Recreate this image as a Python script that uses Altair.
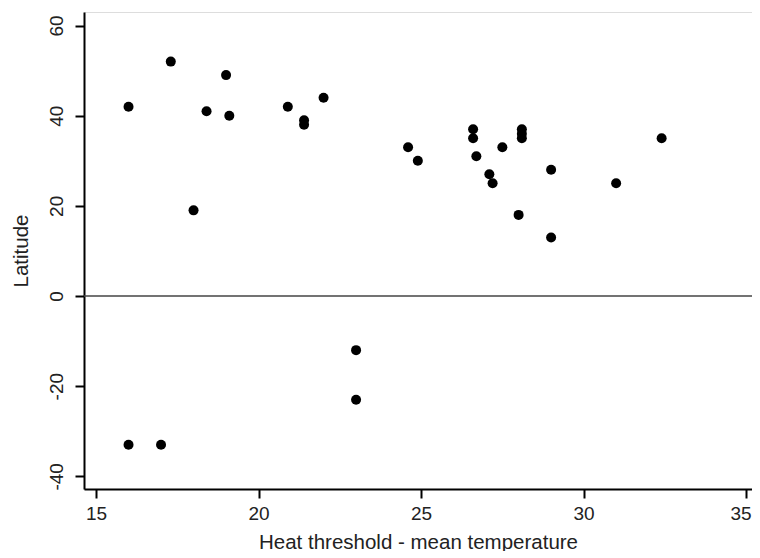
import altair as alt
import pandas as pd

heat_diff = [16, 17.3, 19, 18.4, 19.1, 18, 20.9, 21.4, 21.4, 22,
             24.6, 24.9, 26.6, 26.6, 26.7, 27.5, 27.1, 27.2, 28.1, 28.1,
             28.1, 29, 28, 29, 31, 32.4, 16, 17, 23, 23]
latitude = [42, 52, 49, 41, 40, 19, 42, 39, 38, 44,
            33, 30, 37, 35, 31, 33, 27, 25, 37, 36,
            35, 28, 18, 13, 25, 35, -33, -33, -12, -23]

df = pd.DataFrame({"x": heat_diff, "y": latitude})
zero = pd.DataFrame({"y": [0]})

X_DOM = [14.63, 35.18]
Y_DOM = [-42.8, 63]

font = "Liberation Sans"

xscale = alt.Scale(domain=X_DOM, nice=False, zero=False)
yscale = alt.Scale(domain=Y_DOM, nice=False, zero=False)

pts = alt.Chart(df).mark_circle(size=100, color="black", opacity=1).encode(
    x=alt.X("x:Q", scale=xscale, title="Heat threshold - mean temperature",
            axis=alt.Axis(values=[15, 20, 25, 30, 35], grid=False,
                          labelFontSize=19, titleFontSize=20.5, labelPadding=6,
                          labelAlign={"condition": {"test": "datum.value == 35", "value": "right"},
                                      "value": "center"},
                          labelOffset={"condition": {"test": "datum.value == 35", "value": 5},
                                       "value": 0},
                          titleY=59, titleBaseline="alphabetic",
                          labelFont=font, titleFont=font,
                          labelColor="#222", titleColor="#222", titleFontWeight="normal",
                          domainColor="black", domainWidth=2, tickColor="black",
                          tickWidth=2, tickSize=9)),
    y=alt.Y("y:Q", scale=yscale, title="Latitude",
            axis=alt.Axis(values=[-40, -20, 0, 20, 40, 60], grid=False,
                          labelExpr="toString(datum.value)",
                          labelFontSize=19, titleFontSize=20.5, labelPadding=9,
                          titlePadding=16, labelFont=font, titleFont=font,
                          labelAngle=270, labelAlign="center", labelBaseline="bottom",
                          labelColor="#222", titleColor="#222", titleFontWeight="normal",
                          domainColor="black", domainWidth=2, tickColor="black",
                          tickWidth=2, tickSize=9)),
)

rule = alt.Chart(zero).mark_rule(color="#444", strokeWidth=1.5).encode(
    y=alt.Y("y:Q", scale=yscale)
)

chart = alt.layer(rule, pts).properties(
    width=668, height=477,
    autosize=alt.AutoSizeParams(type="none"),
    padding={"left": 76, "top": 4, "right": 0, "bottom": 62},
).configure_view(stroke=None).configure(background="white")

chart.save("out.html", embed_options={"renderer": "svg", "actions": False})
